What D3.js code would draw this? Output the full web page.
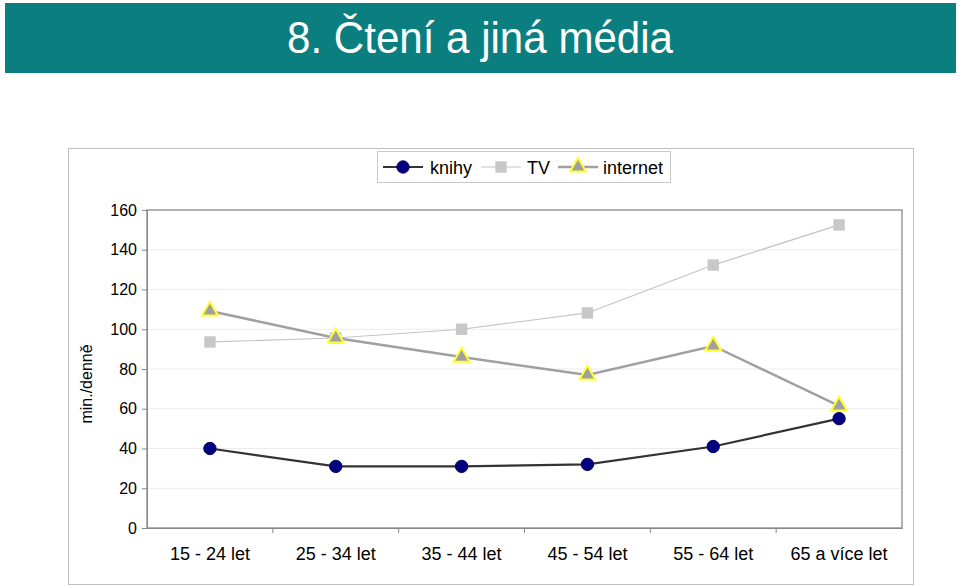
<!DOCTYPE html>
<html><head><meta charset="utf-8">
<script src="https://cdn.jsdelivr.net/npm/d3@7"></script>
<style>body{margin:0;background:#fff}svg{display:block}</style>
</head><body>
<svg id="c" width="960" height="587"></svg>
<script>
const categories = ["15 - 24 let","25 - 34 let","35 - 44 let","45 - 54 let","55 - 64 let","65 a více let"];
const knihy = [40, 31, 31, 32, 41, 55];
const tv = [93.6, 95.6, 100, 108.2, 132.3, 152.5];
const internet = [109.2, 95.6, 86, 77, 91.6, 61.4];
const yTicks = [0,20,40,60,80,100,120,140,160];
const title = "8. Čtení a jiná média";
const yTitle = "min./denně";

const svg = d3.select("#c");
const font = "Liberation Sans, Arial, sans-serif";

// banner
svg.append("rect").attr("x",5).attr("y",3).attr("width",951).attr("height",70).attr("fill","#0b7f80");
svg.append("text").attr("x",287).attr("y",53)
  .attr("font-family",font).attr("font-size",45).attr("fill","#fff")
  .attr("textLength",386).attr("lengthAdjust","spacingAndGlyphs").text(title);

// chart frame
svg.append("rect").attr("x",68.5).attr("y",148.5).attr("width",845).attr("height",436)
  .attr("fill","#fff").attr("stroke","#c0c0c0");

const L=147, R=902, T=210, B=528;
const x = d3.scaleBand().domain(categories).range([L,R]);
const y = d3.scaleLinear().domain([0,160]).range([B,T]);

// gridlines
svg.append("g").selectAll("line").data(yTicks.filter(d=>d>0&&d<160)).join("line")
  .attr("x1",L).attr("x2",R).attr("y1",d=>y(d)).attr("y2",d=>y(d))
  .attr("stroke","#ececec").attr("stroke-width",1);

// plot border
svg.append("rect").attr("x",L).attr("y",T).attr("width",R-L).attr("height",B-T)
  .attr("fill","none").attr("stroke","#999").attr("stroke-width",1.5);

// y axis
const ya = svg.append("g").attr("transform",`translate(${L},0)`)
  .call(d3.axisLeft(y).tickValues(yTicks).tickSize(5).tickPadding(5));
ya.select(".domain").attr("stroke","#888");
ya.selectAll(".tick line").attr("stroke","#888");
ya.selectAll("text").attr("font-family",font).attr("font-size",16).attr("fill","#000");

// x axis
const xa = svg.append("g").attr("transform",`translate(0,${B})`)
  .call(d3.axisBottom(x).tickSize(0).tickPadding(19));
xa.select(".domain").attr("stroke","#888");
xa.selectAll("text").attr("font-family",font).attr("font-size",18).attr("fill","#000");
svg.append("g").selectAll("line").data(d3.range(1,categories.length)).join("line")
  .attr("x1",i=>x(categories[i])).attr("x2",i=>x(categories[i]))
  .attr("y1",B).attr("y2",B+5).attr("stroke","#888");

// y title
svg.append("text").attr("transform","translate(92,384) rotate(-90)").attr("text-anchor","middle")
  .attr("font-family",font).attr("font-size",16).attr("fill","#000").text(yTitle);

const cx = d=>x(d)+x.bandwidth()/2;
const line = d3.line().x((d,i)=>cx(categories[i])).y(d=>y(d));

// TV
svg.append("path").datum(tv).attr("d",line).attr("fill","none").attr("stroke","#c4c4c4").attr("stroke-width",1.2);
// internet
svg.append("path").datum(internet).attr("d",line).attr("fill","none").attr("stroke","#a0a0a0").attr("stroke-width",2.5);
// knihy
svg.append("path").datum(knihy).attr("d",line).attr("fill","none").attr("stroke","#333").attr("stroke-width",2.2);

const sq = d3.symbol().type(d3.symbolSquare).size(130);
const tri = d3.symbol().type(d3.symbolTriangle).size(110);
const circ = d3.symbol().type(d3.symbolCircle).size(120);

svg.append("g").selectAll("path").data(tv).join("path")
  .attr("transform",(d,i)=>`translate(${cx(categories[i])},${y(d)})`).attr("d",sq).attr("fill","#c8c8c8");
svg.append("g").selectAll("path").data(internet).join("path")
  .attr("transform",(d,i)=>`translate(${cx(categories[i])},${y(d)})`).attr("d",tri)
  .attr("fill","#a0a0a0").attr("stroke","#ffff33").attr("stroke-width",2);
svg.append("g").selectAll("path").data(knihy).join("path")
  .attr("transform",(d,i)=>`translate(${cx(categories[i])},${y(d)})`).attr("d",circ)
  .attr("fill","#000080").attr("stroke","#000060").attr("stroke-width",1);

// legend
svg.append("rect").attr("x",377.5).attr("y",151.5).attr("width",293).attr("height",31)
  .attr("fill","#fff").attr("stroke","#c8c8c8");
const leg = [
  {name:"knihy", lx:383, tx:430, color:"#333", w:2.2, sym:circ, fill:"#000080", stroke:"#000060", sw:1},
  {name:"TV", lx:481, tx:527, color:"#c4c4c4", w:1.2, sym:sq, fill:"#c8c8c8", stroke:"none", sw:0},
  {name:"internet", lx:558, tx:603, color:"#a0a0a0", w:2.5, sym:tri, fill:"#a0a0a0", stroke:"#ffff33", sw:2}
];
const ly = 167;
leg.forEach(l=>{
  svg.append("line").attr("x1",l.lx).attr("x2",l.lx+40).attr("y1",ly).attr("y2",ly).attr("stroke",l.color).attr("stroke-width",l.w);
  svg.append("path").attr("transform",`translate(${l.lx+20},${ly})`).attr("d",l.sym).attr("fill",l.fill).attr("stroke",l.stroke).attr("stroke-width",l.sw);
  svg.append("text").attr("x",l.tx).attr("y",ly+6.5).attr("font-family",font).attr("font-size",18).attr("fill","#000").text(l.name);
});
</script>
</body></html>
